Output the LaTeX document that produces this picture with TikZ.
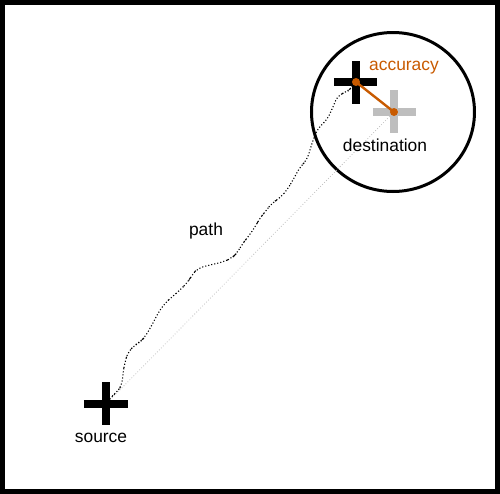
\documentclass[tikz,border=0pt]{standalone}
\usepackage{fontspec}
\setmainfont{Liberation Sans}
\usetikzlibrary{shapes.geometric}
\definecolor{accorange}{RGB}{200,90,0}
\definecolor{crossgray}{RGB}{190,190,190}
\begin{document}
\begin{tikzpicture}[x=0.5pt,y=-0.5pt,
  lbl/.style={font=\fontsize{8.7}{10}\selectfont, inner sep=0pt},
  crossbar/.style={line width=3.6pt},
  dot/.style={circle, fill=accorange, inner sep=0pt, minimum size=4pt}]
\useasboundingbox (0,0) rectangle (500,494);
\draw[line width=2.5pt] (2.5,2.5) rectangle (497.5,491.5);
% coordinates
\coordinate (src) at (106,404);
\coordinate (meas) at (356,82);
\coordinate (dest) at (394,112);
% big circle
\node[draw, line width=1.5pt, ellipse, minimum width=81.5pt, minimum height=79.5pt, inner sep=0pt] (zone) at (393,112) {};
% straight gray line
\draw[crossgray, densely dotted, line width=0.4pt] (src) -- (dest);
% wandering path
\draw[black, densely dotted, line width=0.55pt, rounded corners=3pt] (src)
 -- (110,398) -- (117,392) -- (122,385) -- (123,373) -- (125,362) -- (128,352)
 -- (135,345) -- (140,342) -- (145,337) -- (152,325) -- (158,313) -- (165,303)
 -- (172,297) -- (180,290) -- (188,282) -- (192,275) -- (198,268) -- (210,265)
 -- (223,262) -- (232,258) -- (237,253) -- (243,243) -- (248,237) -- (255,227)
 -- (260,218) -- (265,212) -- (272,203) -- (280,198) -- (287,190) -- (293,180)
 -- (300,167) -- (307,160) -- (313,140) -- (318,128) -- (327,120) -- (333,107)
 -- (338,95) -- (347,92) -- (352,87) -- (meas);
% gray cross (destination)
\draw[crossgray, crossbar] (373,112) -- (416,112);
\draw[crossgray, crossbar] (394,90) -- (394,133);
% black cross (measured)
\draw[crossbar] (334,82) -- (377,82);
\draw[crossbar] (356,61) -- (356,104);
% source cross
\draw[crossbar] (84,404) -- (128,404);
\draw[crossbar] (106,382) -- (106,425);
% accuracy line
\draw[accorange, line width=1.2pt] (meas) -- (dest);
\node[dot] (m) at (meas) {};
\node[dot] (d) at (dest) {};
% labels
\node[lbl, accorange] (acc) at (404,68) {accuracy};
\node[lbl] (dlbl) at (385,145) {destination};
\node[lbl] (slbl) at (101,438) {source};
\node[lbl] (plbl) at (206,231) {path};
\end{tikzpicture}
\end{document}
